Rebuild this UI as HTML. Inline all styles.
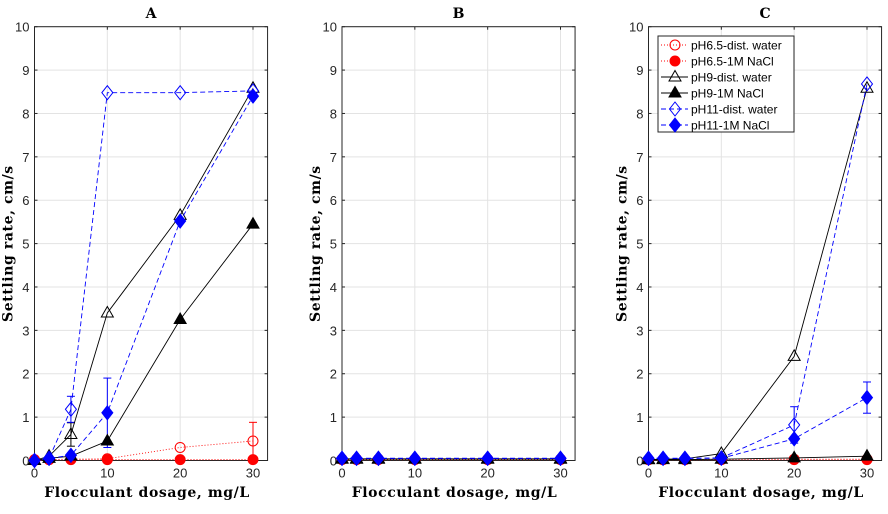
<!DOCTYPE html>
<html><head><meta charset="utf-8"><style>
html,body{margin:0;padding:0;background:#fff;}
svg text{font-family:"Liberation Sans",sans-serif;}
.ser{font-family:"DejaVu Serif","Liberation Serif",serif;font-weight:bold;}
</style></head><body>
<svg id="chart" width="888" height="509" xmlns="http://www.w3.org/2000/svg"></svg>
<script>
const xValues=[0,2,5,10,20,30];
const xTicks=[0,10,20,30];
const yTicks=[0,1,2,3,4,5,6,7,8,9,10];
const panelTitles=["A","B","C"];
const seriesNames=["pH6.5-dist. water","pH6.5-1M NaCl","pH9-dist. water","pH9-1M NaCl","pH11-dist. water","pH11-1M NaCl"];
// panel A
const aPh65Dist=[0,0.02,0.03,0.04,0.3,0.45];
const aPh65Nacl=[0.02,0.02,0.02,0.02,0.02,0.02];
const aPh9Dist=[0,0.1,0.6,3.4,5.65,8.58];
const aPh9Nacl=[0,0.05,0.1,0.45,3.25,5.45];
const aPh11Dist=[0,0.05,1.18,8.48,8.48,8.52];
const aPh11Nacl=[0,0.05,0.12,1.1,5.52,8.4];
// panel B
const bPh65Dist=[0.03,0.03,0.03,0.03,0.03,0.03];
const bPh65Nacl=[0.02,0.02,0.02,0.02,0.02,0.02];
const bPh9Dist=[0.04,0.04,0.04,0.04,0.04,0.04];
const bPh9Nacl=[0.03,0.03,0.03,0.03,0.03,0.03];
const bPh11Dist=[0.05,0.05,0.05,0.05,0.05,0.05];
const bPh11Nacl=[0.05,0.05,0.05,0.05,0.05,0.05];
// panel C
const cPh65Dist=[0.02,0.02,0.02,0.02,0.02,0.02];
const cPh65Nacl=[0.02,0.02,0.02,0.02,0.03,0.03];
const cPh9Dist=[0.02,0.03,0.04,0.16,2.4,8.58];
const cPh9Nacl=[0.02,0.02,0.02,0.03,0.06,0.1];
const cPh11Dist=[0.05,0.05,0.05,0.06,0.82,8.68];
const cPh11Nacl=[0.05,0.05,0.05,0.05,0.5,1.45];
// error bars: [series index, x index, half-width]
const aErr=[[0,5,0.43],[2,2,0.27],[4,2,0.3],[5,3,0.8]];
const bErr=[];
const cErr=[[4,4,0.42],[5,5,0.36]];
const panelData=[[aPh65Dist,aPh65Nacl,aPh9Dist,aPh9Nacl,aPh11Dist,aPh11Nacl],
 [bPh65Dist,bPh65Nacl,bPh9Dist,bPh9Nacl,bPh11Dist,bPh11Nacl],
 [cPh65Dist,cPh65Nacl,cPh9Dist,cPh9Nacl,cPh11Dist,cPh11Nacl]];
const panelErr=[aErr,bErr,cErr];

const NS="http://www.w3.org/2000/svg";
const svg=document.getElementById('chart');
function mk(tag,attrs,parent){const e=document.createElementNS(NS,tag);for(const k in attrs)e.setAttribute(k,attrs[k]);(parent||svg).appendChild(e);return e;}
const styles=[
 {c:"#ff0000",dash:"1,2",m:"circle",fill:false},
 {c:"#ff0000",dash:"1,2",m:"circle",fill:true},
 {c:"#000000",dash:"",m:"tri",fill:false},
 {c:"#000000",dash:"",m:"tri",fill:true},
 {c:"#0000ff",dash:"5,3",m:"diamond",fill:false},
 {c:"#0000ff",dash:"5,3",m:"diamond",fill:true}];
function marker(g,st,x,y){
 const f=st.fill?st.c:"none";let e;
 if(st.m==="circle")e=mk('circle',{cx:x,cy:y,r:5,fill:f,stroke:st.c,'stroke-width':1},g);
 else if(st.m==="tri")e=mk('polygon',{points:`${x},${y-6.5} ${x-6},${y+4} ${x+6},${y+4}`,fill:f,stroke:st.c,'stroke-width':1},g);
 else e=mk('polygon',{points:`${x},${y-7} ${x-5.5},${y} ${x},${y+7} ${x+5.5},${y}`,fill:f,stroke:st.c,'stroke-width':1},g);
 return e;
}
const lefts=[34.5,342,648.5];
const W=218.5/30;
const yTop=26.7,yBot=460.5;
panelData.forEach((series,p)=>{
 const x0=lefts[p];
 const X=v=>x0+v*W, Y=v=>yBot-(yBot-yTop)*v/10;
 const g=mk('g',{});
 
 
 const xr=X(32);
 xTicks.forEach(t=>{const l=mk('line',{x1:X(t),x2:X(t),y1:yTop,y2:yBot,stroke:'#e3e3e3','stroke-width':1},g);});
 yTicks.forEach(t=>{const l=mk('line',{x1:X(0),x2:xr,y1:Y(t),y2:Y(t),stroke:'#e3e3e3','stroke-width':1},g);});
 const box=mk('rect',{x:X(0),y:yTop,width:xr-X(0),height:yBot-yTop,fill:'none',stroke:'#262626','stroke-width':1},g);
 
 xTicks.forEach(t=>{
  mk('line',{x1:X(t),x2:X(t),y1:yBot,y2:yBot-3,stroke:'#262626'},g);mk('line',{x1:X(t),x2:X(t),y1:yTop,y2:yTop+3,stroke:'#262626'},g);
  const tx=mk('text',{x:X(t),y:yBot+17,'text-anchor':'middle','font-size':13,fill:'#262626'},g);tx.textContent=t;
  });
 yTicks.forEach(t=>{
  mk('line',{x1:X(0),x2:X(0)+3,y1:Y(t),y2:Y(t),stroke:'#262626'},g);mk('line',{x1:xr,x2:xr-3,y1:Y(t),y2:Y(t),stroke:'#262626'},g);
  const tx=mk('text',{x:X(0)-5,y:Y(t)+5,'text-anchor':'end','font-size':13,fill:'#262626'},g);tx.textContent=t;
  });
 panelErr[p].forEach(([s,i,h])=>{
  if(h<=0)return;const st=styles[s];const v=series[s][i];
  const eg=mk('g',{stroke:st.c,'stroke-width':1},g);
  mk('line',{x1:X(xValues[i]),x2:X(xValues[i]),y1:Y(v-h),y2:Y(v+h)},eg);
  [v-h,v+h].forEach(e=>mk('line',{x1:X(xValues[i])-4,x2:X(xValues[i])+4,y1:Y(e),y2:Y(e)},eg));
 });
 series.forEach((vals,s)=>{
  const st=styles[s];
  const sg=mk('g',{},g);
  const pl=mk('polyline',{points:vals.map((v,i)=>X(xValues[i])+','+Y(v)).join(' '),fill:'none',stroke:st.c,'stroke-width':0.9,'stroke-dasharray':st.dash},sg);
  
  vals.forEach((v,i)=>{const m=marker(sg,st,X(xValues[i]),Y(v));});
 });
 const ti=mk('text',{x:(X(0)+xr)/2,y:18,'text-anchor':'middle','font-size':14,class:'ser'},g);ti.textContent=panelTitles[p];
 
 const xl=mk('text',{x:(X(0)+xr)/2-4,y:497,'text-anchor':'middle','font-size':14,class:'ser','letter-spacing':'0.6'},g);xl.textContent="Flocculant dosage, mg/L";
 
 const yl=mk('text',{x:0,y:0,'text-anchor':'middle','font-size':14,class:'ser','letter-spacing':'0.6',transform:`translate(${X(0)-22},${(yTop+yBot)/2}) rotate(-90)`},g);yl.textContent="Settling rate, cm/s";
 
});
const lg=mk('g',{});


mk('rect',{x:658,y:36,width:136,height:96,fill:'#fff',stroke:'#262626','stroke-width':1},lg);
seriesNames.forEach((n,s)=>{
 const y=45+s*16;const st=styles[s];
 const e=mk('g',{},lg);
 mk('line',{x1:661,x2:688,y1:y,y2:y,stroke:st.c,'stroke-width':0.9,'stroke-dasharray':st.dash},e);
 marker(e,st,675,y);
 const t=mk('text',{x:691,y:y+4.5,'font-size':12,fill:'#000'},e);t.textContent=n;
});
</script>
</body></html>
